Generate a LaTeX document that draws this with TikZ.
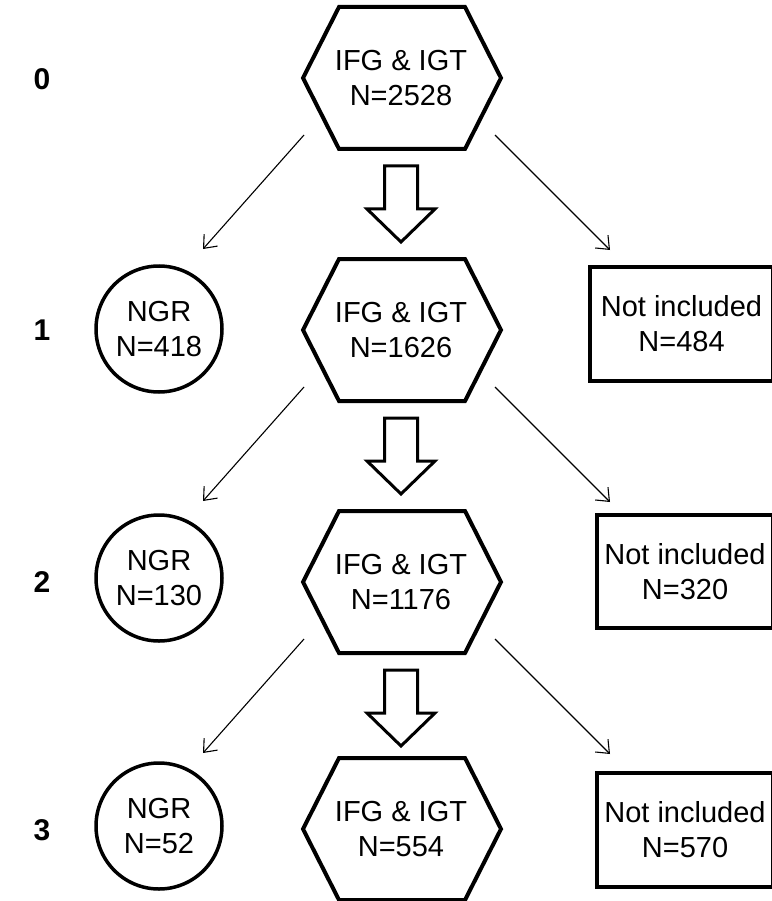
\documentclass[tikz,border=0pt]{standalone}
\usepackage{fontspec}
\setmainfont{Liberation Sans}
\usetikzlibrary{calc,arrows.meta}
\tikzset{
  txt/.style={align=center,font=\fontsize{29}{35}\selectfont,inner sep=0pt},
  hexbox/.style={txt,minimum width=197pt,minimum height=142pt},
  hexline/.style={draw=black,line width=4pt,line join=miter},
  ngr/.style={txt,circle,draw=black,line width=3.5pt,minimum size=126pt},
  notinc/.style={txt,rectangle,draw=black,line width=4pt},
  rowlab/.style={font=\fontsize{30}{30}\selectfont\bfseries,inner sep=0pt},
  thinarr/.style={line width=1.1pt,-{Straight Barb[length=11pt,width=18pt,line width=1.1pt]}},
  bigarr/.style={draw=black,line width=3pt,line join=miter,fill=white}
}
\begin{document}
\begin{tikzpicture}[x=1pt,y=-1pt]
\useasboundingbox (0,0) rectangle (771,901);
% row labels
\node[rowlab] (r0) at (42,79) {0};
\node[rowlab] (r1) at (42,330) {1};
\node[rowlab] (r2) at (42,582) {2};
\node[rowlab] (r3) at (42,830) {3};
% hexagons
\foreach \i/\y/\n in {0/78/2528,1/330/1626,2/582/1176,3/829/554}{
  \node[hexbox] (h\i) at (401,\y) {IFG \& IGT\\N=\n};
  \draw[hexline] ($(h\i)+(-98,0)$) -- ++(36,-71) -- ++(126,0) -- ++(36,71)
     -- ++(-36,71) -- ++(-126,0) -- cycle;
}
% circles
\node[ngr] (c1) at (159,329) {NGR\\N=418};
\node[ngr] (c2) at (159,578) {NGR\\N=130};
\node[ngr] (c3) at (159,826) {NGR\\N=52};
% rectangles (right edge runs off the picture)
\node[notinc,minimum width=183pt,minimum height=114pt] (n1) at (681.5,324) {Not included\\N=484};
\node[notinc,minimum width=176pt,minimum height=113pt] (n2) at (685,571.5) {Not included\\N=320};
\node[notinc,minimum width=176pt,minimum height=114pt] (n3) at (685,830) {Not included\\N=570};
% connectors
\foreach \i in {0,1,2}{
  \coordinate (ls\i) at ($(h\i)+(-97,57)$);
  \coordinate (le\i) at ($(h\i)+(-198,171)$);
  \coordinate (rs\i) at ($(h\i)+(94,57)$);
  \coordinate (re\i) at ($(h\i)+(209,172)$);
  \draw[thinarr] (ls\i) -- (le\i);
  \draw[thinarr] (rs\i) -- (re\i);
  \coordinate (b\i) at ($(h\i)+(0,88)$);
  \draw[bigarr] ($(b\i)+(-16.5,0)$) -- ++(33,0) -- ++(0,43) -- ++(17.5,0)
     -- ($(b\i)+(0,76)$) -- ($(b\i)+(-34,43)$) -- ++(17.5,0) -- cycle;
}
\end{tikzpicture}
\end{document}
